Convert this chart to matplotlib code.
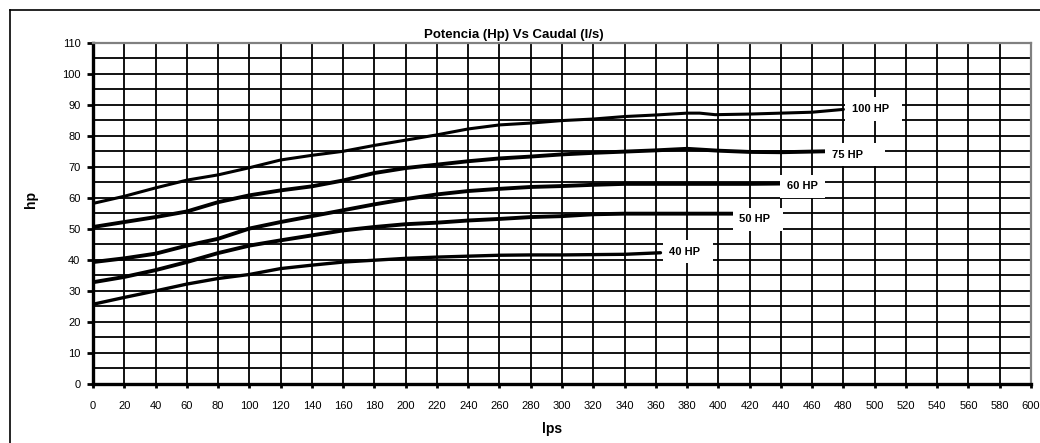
import matplotlib
matplotlib.use("Agg")
import matplotlib.pyplot as plt
from matplotlib.lines import Line2D

plt.rcParams['font.family'] = ['Liberation Sans', 'DejaVu Sans']

# curves (lps -> hp)
x_100 = [0, 20, 40, 60, 80, 100, 120, 140, 160, 180, 200, 220, 240, 260, 280, 300, 320, 340, 360, 380, 388, 398, 420, 440, 460, 480]
hp_100 = [58.2, 60.5, 63.2, 65.7, 67.4, 69.7, 72.2, 73.7, 75.0, 76.9, 78.6, 80.3, 82.2, 83.5, 84.1, 84.9, 85.4, 86.2, 86.7, 87.3, 87.3, 86.8, 87.0, 87.3, 87.6, 88.5]

x_75 = [0, 20, 40, 60, 80, 100, 120, 140, 160, 180, 200, 220, 240, 260, 280, 300, 320, 340, 360, 380, 400, 420, 440, 469]
hp_75 = [50.6, 52.2, 53.8, 55.6, 58.6, 60.8, 62.4, 63.7, 65.6, 68.0, 69.6, 70.7, 71.8, 72.7, 73.3, 74.0, 74.5, 74.9, 75.3, 75.8, 75.2, 74.8, 74.7, 75.0]

x_60 = [0, 20, 40, 60, 80, 100, 120, 140, 160, 180, 200, 220, 240, 260, 280, 300, 320, 340, 360, 380, 400, 420, 440]
hp_60 = [39.3, 40.5, 42.0, 44.6, 46.8, 50.1, 52.2, 54.1, 56.0, 57.9, 59.6, 61.1, 62.2, 62.9, 63.5, 63.8, 64.2, 64.5, 64.5, 64.5, 64.5, 64.5, 64.6]

x_50 = [0, 20, 40, 60, 80, 100, 120, 140, 160, 180, 200, 220, 240, 260, 280, 300, 320, 340, 360, 380, 410]
hp_50 = [32.8, 34.5, 36.7, 39.3, 42.2, 44.6, 46.3, 47.9, 49.5, 50.6, 51.5, 52.0, 52.7, 53.2, 53.8, 54.1, 54.7, 54.9, 54.9, 54.9, 54.9]

x_40 = [0, 20, 40, 60, 80, 100, 120, 140, 160, 180, 200, 220, 240, 260, 280, 300, 320, 340, 363]
hp_40 = [25.7, 27.9, 30.0, 32.2, 34.0, 35.3, 37.2, 38.3, 39.3, 39.9, 40.5, 40.9, 41.2, 41.5, 41.6, 41.6, 41.7, 41.8, 42.3]

curves = [(x_100, hp_100, 2.2), (x_75, hp_75, 2.8), (x_60, hp_60, 2.8), (x_50, hp_50, 2.8), (x_40, hp_40, 2.4)]

# end labels: text, left x (lps), y (hp)
label_text = ['100 HP', '75 HP', '60 HP', '50 HP', '40 HP']
label_x = [485.6, 472.8, 444.0, 413.4, 368.7]
label_y = [88.6, 73.9, 63.7, 53.1, 42.6]
label_tail = ['  ', '     ', '', '  ', '  ']

x_ticks = list(range(0, 601, 20))
y_ticks = list(range(0, 111, 10))
y_minor = list(range(5, 110, 10))

fig = plt.figure(figsize=(10.4, 4.43), dpi=100)
ax = fig.add_axes([93 / 1040, 1 - 384 / 443, (1031 - 93) / 1040, (384 - 42.7) / 443])

for xs, ys, lw in curves:
    ax.plot(xs, ys, color='black', lw=lw, zorder=3, solid_capstyle='round')

for txt, lx, ly, tail in zip(label_text, label_x, label_y, label_tail):
    ax.text(lx, ly, txt + tail, ha='left', va='center', fontsize=8, fontweight='bold',
            zorder=5, bbox=dict(boxstyle='square,pad=0.6', fc='white', ec='none'))

ax.set_xlim(0, 600)
ax.set_ylim(0, 110)
ax.set_xticks(x_ticks)
ax.set_yticks(y_ticks)
ax.set_yticks(y_minor, minor=True)
ax.tick_params(axis='y', which='minor', length=0)
ax.tick_params(axis='y', which='major', length=4, width=2, pad=5, labelsize=8)
ax.tick_params(axis='x', length=3, width=2, pad=9, labelsize=8)
ax.grid(True, which='both', axis='y', color='black', lw=1.3, zorder=1)
ax.grid(True, which='major', axis='x', color='black', lw=1.3, zorder=1)
ax.set_axisbelow(True)

ax.spines['left'].set_linewidth(2.4)
ax.spines['bottom'].set_linewidth(2.4)
ax.spines['top'].set_color('#808080')
ax.spines['right'].set_color('#808080')
ax.spines['top'].set_linewidth(1.6)
ax.spines['right'].set_linewidth(1.6)

fig.text(514 / 1040, 1 - 35 / 443, 'Potencia (Hp) Vs Caudal (l/s)', ha='center', va='center',
         fontsize=9.5, fontweight='bold')
fig.text(552 / 1040, 1 - 429 / 443, 'lps', ha='center', va='center', fontsize=10, fontweight='bold')
fig.text(31 / 1040, 1 - 200 / 443, 'hp', ha='center', va='center', rotation=90,
         fontsize=10, fontweight='bold')

# outer chart frame (only left/top edges visible)
fig.add_artist(Line2D([10 / 1040, 10 / 1040], [0, 1 - 10 / 443], color='black', lw=1.2))
fig.add_artist(Line2D([10 / 1040, 1], [1 - 10 / 443, 1 - 10 / 443], color='black', lw=1.2))

fig.savefig('out.png', dpi=100)
